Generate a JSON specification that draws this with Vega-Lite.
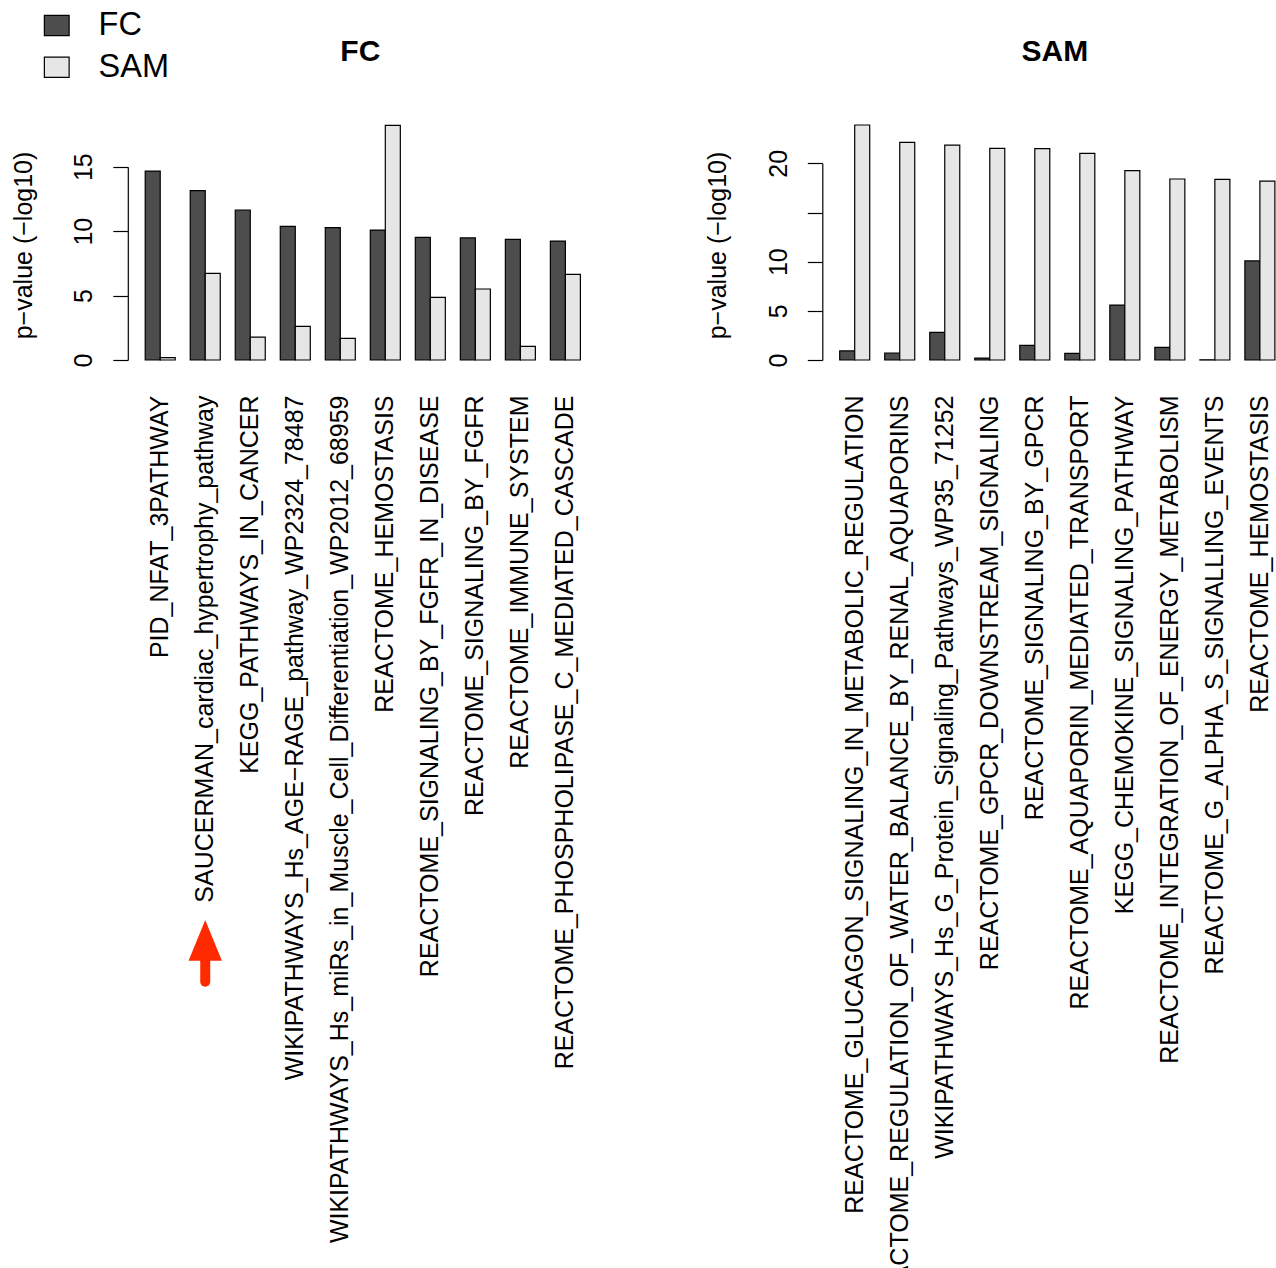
{
  "$schema": "https://vega.github.io/schema/vega-lite/v6.json",
  "background": "white",
  "autosize": {"type": "none"},
  "padding": {"left": 127.8, "top": 125, "right": 1148.2, "bottom": 1143},
  "config": {
    "font": "Liberation Sans",
    "view": {"stroke": null},
    "axis": {"grid": false, "labelColor": "black", "titleColor": "black"}
  },
  "datasets": {
    "fc": [
      {"pathway": "PID_NFAT_3PATHWAY", "method": "FC", "value": 14.66},
      {"pathway": "PID_NFAT_3PATHWAY", "method": "SAM", "value": 0.18},
      {"pathway": "SAUCERMAN_cardiac_hypertrophy_pathway", "method": "FC", "value": 13.14},
      {"pathway": "SAUCERMAN_cardiac_hypertrophy_pathway", "method": "SAM", "value": 6.72},
      {"pathway": "KEGG_PATHWAYS_IN_CANCER", "method": "FC", "value": 11.64},
      {"pathway": "KEGG_PATHWAYS_IN_CANCER", "method": "SAM", "value": 1.78},
      {"pathway": "WIKIPATHWAYS_Hs_AGE−RAGE_pathway_WP2324_78487", "method": "FC", "value": 10.37},
      {"pathway": "WIKIPATHWAYS_Hs_AGE−RAGE_pathway_WP2324_78487", "method": "SAM", "value": 2.61},
      {"pathway": "WIKIPATHWAYS_Hs_miRs_in_Muscle_Cell_Differentiation_WP2012_68959", "method": "FC", "value": 10.27},
      {"pathway": "WIKIPATHWAYS_Hs_miRs_in_Muscle_Cell_Differentiation_WP2012_68959", "method": "SAM", "value": 1.68},
      {"pathway": "REACTOME_HEMOSTASIS", "method": "FC", "value": 10.08},
      {"pathway": "REACTOME_HEMOSTASIS", "method": "SAM", "value": 18.2},
      {"pathway": "REACTOME_SIGNALING_BY_FGFR_IN_DISEASE", "method": "FC", "value": 9.52},
      {"pathway": "REACTOME_SIGNALING_BY_FGFR_IN_DISEASE", "method": "SAM", "value": 4.86},
      {"pathway": "REACTOME_SIGNALING_BY_FGFR", "method": "FC", "value": 9.47},
      {"pathway": "REACTOME_SIGNALING_BY_FGFR", "method": "SAM", "value": 5.51},
      {"pathway": "REACTOME_IMMUNE_SYSTEM", "method": "FC", "value": 9.36},
      {"pathway": "REACTOME_IMMUNE_SYSTEM", "method": "SAM", "value": 1.06},
      {"pathway": "REACTOME_PHOSPHOLIPASE_C_MEDIATED_CASCADE", "method": "FC", "value": 9.23},
      {"pathway": "REACTOME_PHOSPHOLIPASE_C_MEDIATED_CASCADE", "method": "SAM", "value": 6.65}
    ],
    "sam": [
      {"pathway": "REACTOME_GLUCAGON_SIGNALING_IN_METABOLIC_REGULATION", "method": "FC", "value": 0.92},
      {"pathway": "REACTOME_GLUCAGON_SIGNALING_IN_METABOLIC_REGULATION", "method": "SAM", "value": 23.9},
      {"pathway": "REACTOME_REGULATION_OF_WATER_BALANCE_BY_RENAL_AQUAPORINS", "method": "FC", "value": 0.71},
      {"pathway": "REACTOME_REGULATION_OF_WATER_BALANCE_BY_RENAL_AQUAPORINS", "method": "SAM", "value": 22.14},
      {"pathway": "WIKIPATHWAYS_Hs_G_Protein_Signaling_Pathways_WP35_71252", "method": "FC", "value": 2.81},
      {"pathway": "WIKIPATHWAYS_Hs_G_Protein_Signaling_Pathways_WP35_71252", "method": "SAM", "value": 21.86},
      {"pathway": "REACTOME_GPCR_DOWNSTREAM_SIGNALING", "method": "FC", "value": 0.2},
      {"pathway": "REACTOME_GPCR_DOWNSTREAM_SIGNALING", "method": "SAM", "value": 21.53},
      {"pathway": "REACTOME_SIGNALING_BY_GPCR", "method": "FC", "value": 1.49},
      {"pathway": "REACTOME_SIGNALING_BY_GPCR", "method": "SAM", "value": 21.49},
      {"pathway": "REACTOME_AQUAPORIN_MEDIATED_TRANSPORT", "method": "FC", "value": 0.68},
      {"pathway": "REACTOME_AQUAPORIN_MEDIATED_TRANSPORT", "method": "SAM", "value": 21.02},
      {"pathway": "KEGG_CHEMOKINE_SIGNALING_PATHWAY", "method": "FC", "value": 5.59},
      {"pathway": "KEGG_CHEMOKINE_SIGNALING_PATHWAY", "method": "SAM", "value": 19.25},
      {"pathway": "REACTOME_INTEGRATION_OF_ENERGY_METABOLISM", "method": "FC", "value": 1.29},
      {"pathway": "REACTOME_INTEGRATION_OF_ENERGY_METABOLISM", "method": "SAM", "value": 18.41},
      {"pathway": "REACTOME_G_ALPHA_S_SIGNALLING_EVENTS", "method": "FC", "value": 0.02},
      {"pathway": "REACTOME_G_ALPHA_S_SIGNALLING_EVENTS", "method": "SAM", "value": 18.37},
      {"pathway": "REACTOME_HEMOSTASIS", "method": "FC", "value": 10.08},
      {"pathway": "REACTOME_HEMOSTASIS", "method": "SAM", "value": 18.2}
    ],
    "marker": [
      {"pathway": "SAUCERMAN_cardiac_hypertrophy_pathway", "shaftBottom": -48.25, "shaftTop": -46.4, "head": -45.03}
    ]
  },
  "hconcat": [
    {
      "width": 470,
      "height": 235,
      "title": {"text": "FC", "fontSize": 30, "fontWeight": "bold", "color": "black", "anchor": "middle", "baseline": "alphabetic", "offset": 33.5, "dx": -2.5},
      "layer": [
        {
          "data": {"name": "fc"},
          "mark": {"type": "bar", "stroke": "black", "strokeWidth": 1.2},
          "encoding": {
            "x": {
              "field": "pathway", "type": "nominal", "sort": null,
              "scale": {"paddingInner": 0.3333, "paddingOuter": 0.3867},
              "axis": {"title": null, "labelAngle": -90, "labelAlign": "right", "labelBaseline": "middle", "ticks": false, "domain": false, "labelPadding": 35, "labelFontSize": 25, "labelLimit": 3000, "labelOverlap": false}
            },
            "xOffset": {"field": "method", "type": "nominal", "sort": ["FC", "SAM"], "scale": {"paddingInner": 0, "paddingOuter": 0}},
            "y": {
              "field": "value", "type": "quantitative",
              "scale": {"domain": [0, 15], "range": [235, 41.7], "nice": false, "zero": true},
              "axis": {"values": [0, 5, 10, 15], "tickSize": 15, "tickColor": "black", "tickWidth": 1.2, "domainColor": "black", "domainWidth": 1.2, "labelAngle": -90, "labelAlign": "center", "labelBaseline": "alphabetic", "labelPadding": 21, "labelFontSize": 25, "labelFlush": false, "labelOverlap": false, "title": "p−value (−log10)", "titleFontSize": 25, "titleFontWeight": "normal", "titleAngle": -90, "titleAlign": "center", "titleBaseline": "alphabetic", "titleX": -96.8, "titleY": 120}
            },
            "color": {
              "field": "method", "type": "nominal",
              "scale": {"domain": ["FC", "SAM"], "range": ["#4D4D4D", "#E6E6E6"]},
              "legend": {"title": null, "orient": "none", "legendX": -87.3, "legendY": -115.8, "padding": 0, "labelFontSize": 32.5, "labelColor": "black", "labelOffset": 25.6, "rowPadding": 8.8, "symbolType": "M-1.22,-1L1.22,-1L1.22,1L-1.22,1Z", "symbolSize": 412, "symbolStrokeColor": "black", "symbolStrokeWidth": 1.2, "symbolOpacity": 1}
            }
          }
        },
        {
          "mark": {"type": "rule", "color": "black", "strokeWidth": 1.2, "strokeDash": [5, 4]},
          "encoding": {"y": {"datum": 1.30103}}
        },
        {
          "data": {"name": "marker"},
          "mark": {"type": "rule", "color": "#FF2A00", "strokeWidth": 10, "strokeCap": "round"},
          "encoding": {
            "x": {"field": "pathway", "type": "nominal", "sort": null},
            "y": {"field": "shaftBottom", "type": "quantitative"},
            "y2": {"field": "shaftTop"}
          }
        },
        {
          "data": {"name": "marker"},
          "mark": {"type": "point", "shape": "M0,-1L0.82,1L-0.82,1Z", "filled": true, "color": "#FF2A00", "opacity": 1, "size": 1656},
          "encoding": {
            "x": {"field": "pathway", "type": "nominal", "sort": null},
            "y": {"field": "head", "type": "quantitative"}
          }
        }
      ]
    },
    {
      "width": 470,
      "height": 235,
      "title": {"text": "SAM", "fontSize": 30, "fontWeight": "bold", "color": "black", "anchor": "middle", "baseline": "alphabetic", "offset": 33.5, "dx": -2.5},
      "layer": [
        {
          "data": {"name": "sam"},
          "mark": {"type": "bar", "stroke": "black", "strokeWidth": 1.2},
          "encoding": {
            "x": {
              "field": "pathway", "type": "nominal", "sort": null,
              "scale": {"paddingInner": 0.3333, "paddingOuter": 0.3867},
              "axis": {"title": null, "labelAngle": -90, "labelAlign": "right", "labelBaseline": "middle", "ticks": false, "domain": false, "labelPadding": 35, "labelFontSize": 25, "labelLimit": 3000, "labelOverlap": false}
            },
            "xOffset": {"field": "method", "type": "nominal", "sort": ["FC", "SAM"], "scale": {"paddingInner": 0, "paddingOuter": 0}},
            "y": {
              "field": "value", "type": "quantitative",
              "scale": {"domain": [0, 20], "range": [235, 38.35], "nice": false, "zero": true},
              "axis": {"values": [0, 5, 10, 15, 20], "labelExpr": "datum.value == 15 ? '' : datum.label", "tickSize": 15, "tickColor": "black", "tickWidth": 1.2, "domainColor": "black", "domainWidth": 1.2, "labelAngle": -90, "labelAlign": "center", "labelBaseline": "alphabetic", "labelPadding": 21, "labelFontSize": 25, "labelFlush": false, "labelOverlap": false, "title": "p−value (−log10)", "titleFontSize": 25, "titleFontWeight": "normal", "titleAngle": -90, "titleAlign": "center", "titleBaseline": "alphabetic", "titleX": -96.8, "titleY": 120}
            },
            "color": {
              "field": "method", "type": "nominal",
              "scale": {"domain": ["FC", "SAM"], "range": ["#4D4D4D", "#E6E6E6"]}
            }
          }
        },
        {
          "mark": {"type": "rule", "color": "black", "strokeWidth": 1.2, "strokeDash": [5, 4]},
          "encoding": {"y": {"datum": 1.30103}}
        }
      ]
    }
  ],
  "spacing": 224.5,
  "bounds": "flush",
  "resolve": {"scale": {"x": "independent", "y": "independent"}, "legend": {"color": "shared"}}
}
